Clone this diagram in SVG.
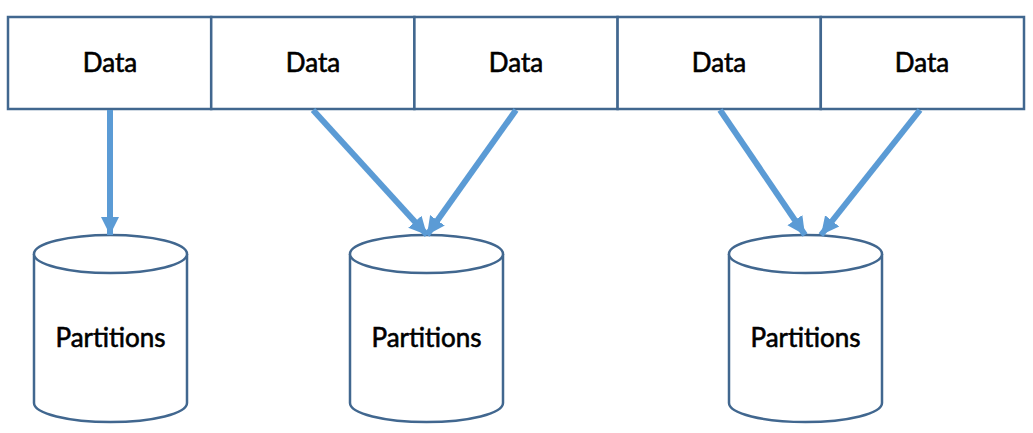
<svg xmlns="http://www.w3.org/2000/svg" width="1033" height="433" viewBox="0 0 1033 433">
<style>
.box{fill:#fff;stroke:#41678f;stroke-width:2.5}
.cyl{fill:#fff;stroke:#41678f;stroke-width:2.5}
.lbl{font-family:Lato,"Open Sans",sans-serif;font-size:26px;fill:#000;stroke:#000;stroke-width:0.6;text-anchor:middle}
.arr{stroke:#5b9bd5;stroke-width:6;fill:none;marker-end:url(#ah)}
</style>
<defs>
<marker id="ah" markerUnits="userSpaceOnUse" markerWidth="20" markerHeight="20" viewBox="0 0 20 20" refX="18" refY="10" orient="auto">
<path d="M0,1 L18,10 L0,19 Z" fill="#5b9bd5"/>
</marker>
</defs>
<g id="data1"><rect class="box" x="8" y="17" width="203.2" height="92"/><text class="lbl" x="110" y="72">Data</text></g>
<g id="data2"><rect class="box" x="211.2" y="17" width="203.2" height="92"/><text class="lbl" x="313" y="72">Data</text></g>
<g id="data3"><rect class="box" x="414.4" y="17" width="203.2" height="92"/><text class="lbl" x="516" y="72">Data</text></g>
<g id="data4"><rect class="box" x="617.6" y="17" width="203.2" height="92"/><text class="lbl" x="719" y="72">Data</text></g>
<g id="data5"><rect class="box" x="820.8" y="17" width="203.2" height="92"/><text class="lbl" x="922" y="72">Data</text></g>
<g id="part1">
<path class="cyl" d="M34,254 L34,403 A76.5,19 0 0 0 187,403 L187,254"/>
<ellipse class="cyl" cx="110.5" cy="254" rx="76.5" ry="19"/>
<text class="lbl" x="110.5" y="347">Partitions</text>
</g>
<g id="part2">
<path class="cyl" d="M350,254 L350,403 A76.5,19 0 0 0 503,403 L503,254"/>
<ellipse class="cyl" cx="426.5" cy="254" rx="76.5" ry="19"/>
<text class="lbl" x="426.5" y="347">Partitions</text>
</g>
<g id="part3">
<path class="cyl" d="M729,254 L729,403 A76.5,19 0 0 0 882,403 L882,254"/>
<ellipse class="cyl" cx="805.5" cy="254" rx="76.5" ry="19"/>
<text class="lbl" x="805.5" y="347">Partitions</text>
</g>
<g id="connectors">
<line class="arr" x1="110" y1="110" x2="110" y2="235"/>
<line class="arr" x1="313" y1="110" x2="427" y2="235"/>
<line class="arr" x1="516" y1="110" x2="427" y2="235"/>
<line class="arr" x1="720" y1="110" x2="805" y2="235"/>
<line class="arr" x1="920" y1="110" x2="821" y2="235"/>
</g>
</svg>
